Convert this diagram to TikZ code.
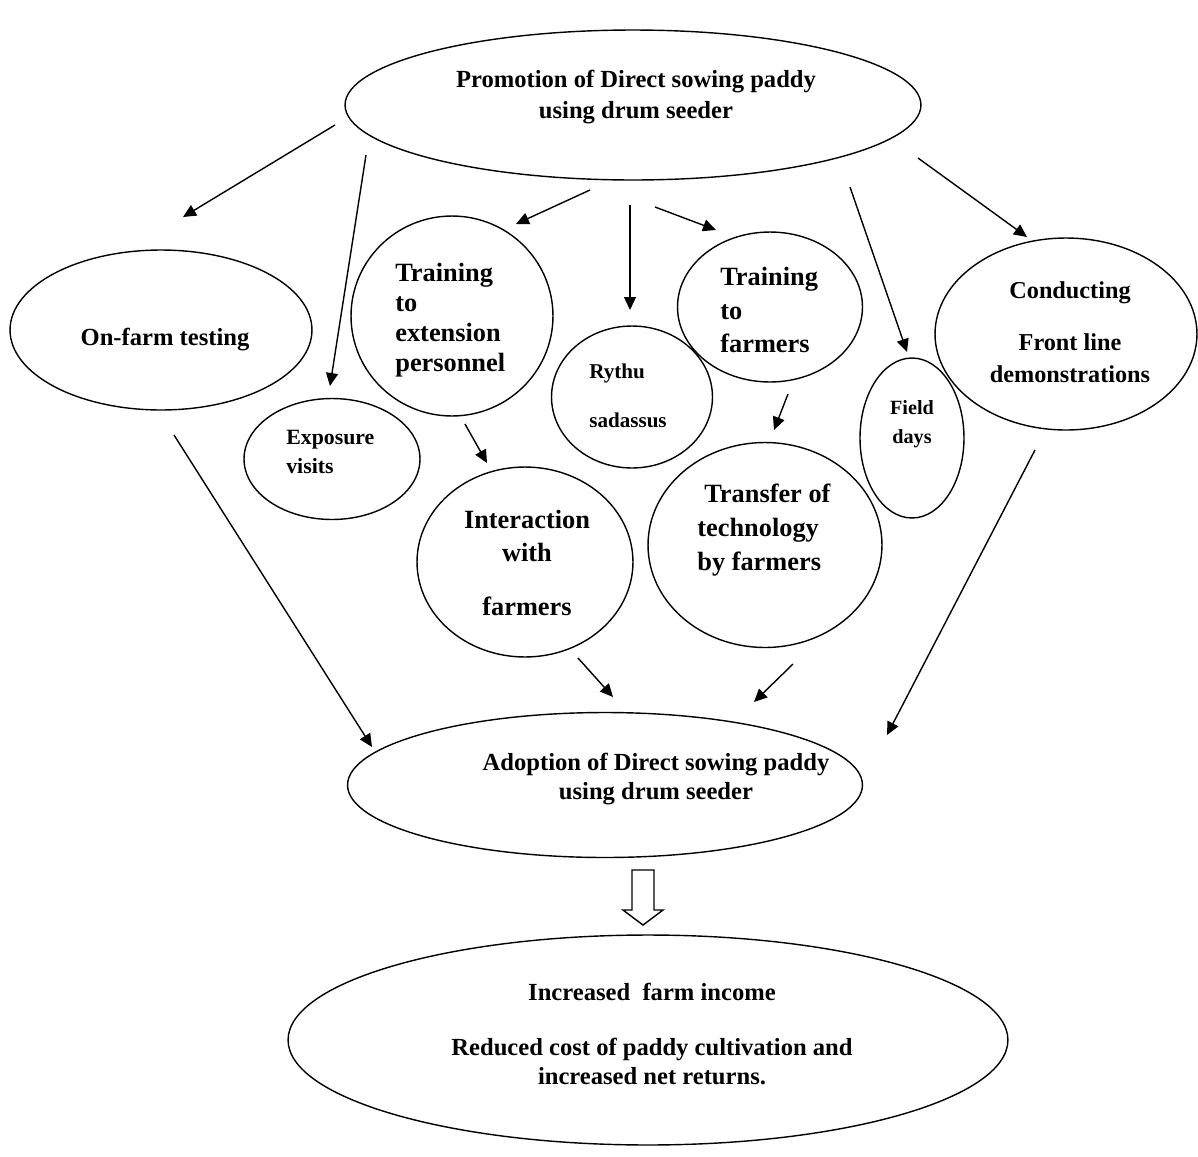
\documentclass[tikz,border=0pt]{standalone}
\usepackage{fontspec}
\setmainfont{Liberation Serif}
\usetikzlibrary{shapes.geometric,arrows.meta}
\begin{document}
\begin{tikzpicture}[x=0.02cm,y=-0.02cm,
  shp/.style={ellipse,draw,line width=0.8pt,inner sep=0pt},
  arr/.style={-{Triangle[length=0.26cm,width=0.24cm]},line width=0.8pt},
  txt/.style={inner sep=0pt}]
\useasboundingbox[fill=white] (0,0) rectangle (1198,1157);
% shapes
\node[shp,minimum width=11.52cm,minimum height=3.0cm] (top) at (633,105) {};
\node[shp,minimum width=6.04cm,minimum height=3.2cm] (onfarm) at (161,330) {};
\node[shp,minimum width=4.04cm,minimum height=4.0cm] (trext) at (452,316) {};
\node[shp,minimum width=3.52cm,minimum height=2.42cm] (expo) at (332,459) {};
\node[shp,minimum width=3.22cm,minimum height=2.84cm] (rythu) at (632,397) {};
\node[shp,minimum width=3.7cm,minimum height=3.0cm] (trfarm) at (770,307) {};
\node[shp,minimum width=2.08cm,minimum height=3.2cm] (field) at (912,438) {};
\node[shp,minimum width=5.24cm,minimum height=3.84cm] (fld) at (1066,334) {};
\node[shp,minimum width=4.32cm,minimum height=3.8cm] (inter) at (525,562) {};
\node[shp,minimum width=4.68cm,minimum height=4.1cm] (tot) at (765,545) {};
\node[shp,minimum width=10.3cm,minimum height=2.9cm] (adopt) at (605,785) {};
\node[shp,minimum width=14.4cm,minimum height=4.2cm] (result) at (648,1040) {};
% texts
\node[txt,align=center,font=\fontsize{14}{17.6}\selectfont\bfseries] (ttop) at (636,97) {Promotion of Direct sowing paddy\\using drum seeder};
\node[txt,font=\fontsize{14}{17}\selectfont\bfseries] (tonfarm) at (165,340) {On-farm testing};
\node[txt,align=left,anchor=west,font=\fontsize{15}{17}\selectfont\bfseries] (ttrext) at (395,320) {Training\\to\\extension\\personnel};
\node[txt,align=left,anchor=west,font=\fontsize{12.4}{16}\selectfont\bfseries] (texpo) at (286,452) {Exposure\\visits};
\node[txt,align=left,anchor=west,font=\fontsize{12}{27.8}\selectfont\bfseries] (trythu) at (589,396) {Rythu\\sadassus};
\node[txt,align=left,anchor=west,font=\fontsize{15}{19.3}\selectfont\bfseries] (ttrfarm) at (720,310) {Training\\to\\farmers};
\node[txt,align=center,font=\fontsize{11.5}{16.4}\selectfont\bfseries] (tfield) at (912,424) {Field\\days};
\node[txt,align=center,font=\fontsize{13.8}{18}\selectfont\bfseries] (tfld) at (1070,332) {Conducting\\[11.5pt]Front line\\demonstrations};
\node[txt,align=center,font=\fontsize{15}{18.7}\selectfont\bfseries] (tinter) at (527,563) {Interaction\\with\\[12.5pt]farmers};
\node[txt,align=left,anchor=west,font=\fontsize{15}{19.3}\selectfont\bfseries] (ttot) at (697,530) {\hspace{0.14cm}Transfer of\\technology\\by farmers};
\node[txt,align=center,font=\fontsize{14}{17}\selectfont\bfseries] (tadopt) at (656,779) {Adoption of Direct sowing paddy\\using drum seeder};
\node[txt,align=center,font=\fontsize{14}{16.4}\selectfont\bfseries] (tresult) at (652,1034) {Increased~ farm income\\[14.8pt]Reduced cost of paddy cultivation and\\increased net returns.};
% arrow end points
\coordinate (a1s) at (335,125); \coordinate (a1e) at (183,217);
\coordinate (a2s) at (366,155); \coordinate (a2e) at (330,386);
\coordinate (a3s) at (590,190); \coordinate (a3e) at (516,224);
\coordinate (a4s) at (630,205); \coordinate (a4e) at (630,310);
\coordinate (a5s) at (655,207); \coordinate (a5e) at (716,230);
\coordinate (a6s) at (850,187); \coordinate (a6e) at (907,352);
\coordinate (a7s) at (918,158); \coordinate (a7e) at (1027,237);
\coordinate (a8s) at (174,435); \coordinate (a8e) at (372,747);
\coordinate (a9s) at (465,424); \coordinate (a9e) at (487,463);
\coordinate (a10s) at (788,394); \coordinate (a10e) at (774,430);
\coordinate (a11s) at (578,658); \coordinate (a11e) at (613,697);
\coordinate (a12s) at (793,664); \coordinate (a12e) at (754,702);
\coordinate (a13s) at (1035,450); \coordinate (a13e) at (887,735);
\foreach \i in {1,...,13} {\draw[arr] (a\i s) -- (a\i e);}
% hollow arrow
\draw[line width=0.8pt,line join=miter] (632,870) -- (654,870) -- (654,910) -- (663,910) -- (643,925) -- (623,910) -- (632,910) -- cycle;
\end{tikzpicture}
\end{document}
